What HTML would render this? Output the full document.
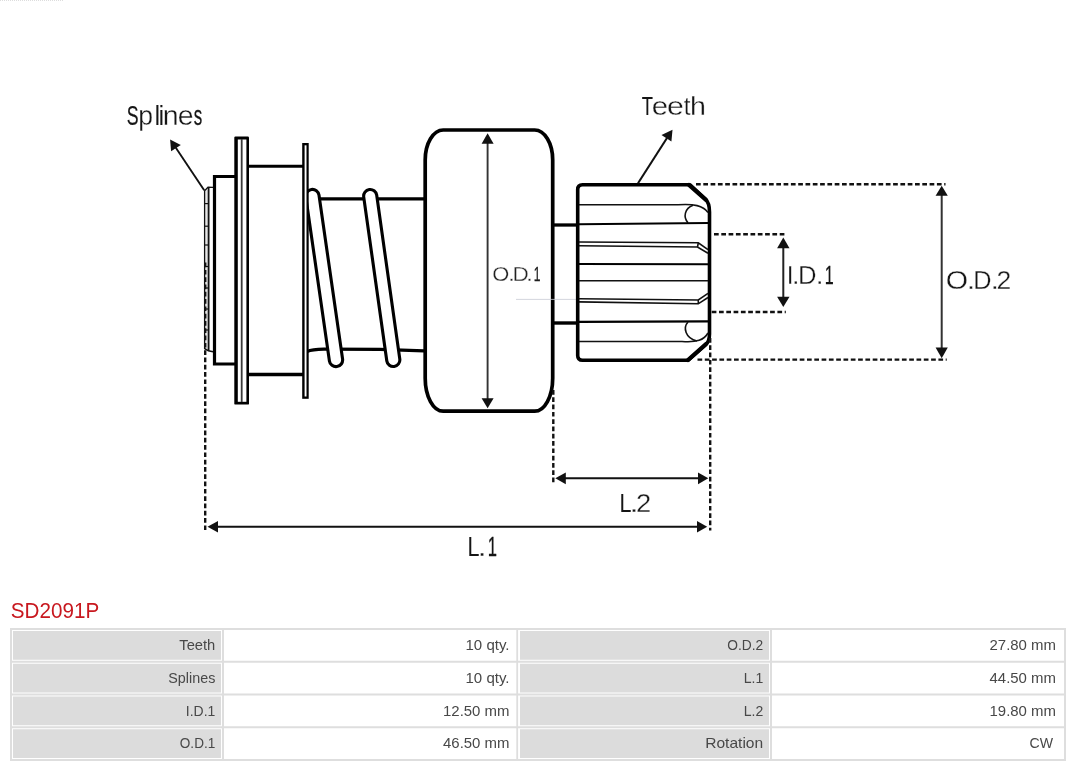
<!DOCTYPE html>
<html><head><meta charset="utf-8">
<style>
html,body{margin:0;padding:0;background:#fff;}
body{width:1080px;height:767px;position:relative;overflow:hidden;font-family:"Liberation Sans",sans-serif;}
svg{position:absolute;left:0;top:0;will-change:transform;}
svg text{font-family:"Liberation Sans",sans-serif;fill:#1a1a1a;}
svg text.tt{font-size:13.9px;fill:#484848;}
svg text.lb{fill:#151515;}
svg text.sm{fill:#222;}
#title{position:absolute;left:11px;top:598px;font-size:20.6px;line-height:24px;color:#c8181f;white-space:nowrap;}
.b{position:absolute;background:#dedede;}
.g{position:absolute;background:#dcdcdc;}
.t{position:absolute;font-size:14.3px;line-height:29px;height:29px;color:#444;text-align:right;white-space:nowrap;}
</style></head><body>
<svg width="1080" height="767" viewBox="0 0 1080 767">
<line x1="0" y1="0.5" x2="64" y2="0.5" stroke="#ddd" stroke-width="1" stroke-dasharray="1 1"/>
<path d="M204.6,190.7 L208,187 L213,187.3 L213,351.5 L208.4,350.6 L204.6,348.6 Z" fill="#fff" stroke="none"/>
<rect x="204.6" y="190" width="4" height="159" fill="#e6e6e6"/>
<path d="M204.6,349 L204.6,190.7 L208,187.2 L213,187.4" fill="none" stroke="#111" stroke-width="1.3"/>
<path d="M208.6,187 L208.6,351" fill="none" stroke="#111" stroke-width="1.8"/>
<path d="M204.6,348.6 L208.4,350.8 L213,351.8" fill="none" stroke="#111" stroke-width="1.6"/>
<line x1="204.2" y1="203.6" x2="208.6" y2="203.6" stroke="#111" stroke-width="1.2"/>
<line x1="204.2" y1="226.2" x2="208.6" y2="226.2" stroke="#111" stroke-width="1.2"/>
<line x1="204.2" y1="245" x2="208.6" y2="245" stroke="#111" stroke-width="1.2"/>
<line x1="204.2" y1="266.5" x2="208.6" y2="266.5" stroke="#111" stroke-width="1.2"/>
<line x1="204.2" y1="288" x2="208.6" y2="288" stroke="#111" stroke-width="1.2"/>
<line x1="204.2" y1="309" x2="208.6" y2="309" stroke="#111" stroke-width="1.2"/>
<line x1="204.2" y1="330" x2="208.6" y2="330" stroke="#111" stroke-width="1.2"/>
<path d="M236,176.5 L214.5,176.5 L214.5,364 L236,364" fill="#fff" stroke="#000" stroke-width="3.2" stroke-linejoin="miter"/>
<line x1="247" y1="166.3" x2="303" y2="166.3" stroke="#000" stroke-width="3"/>
<line x1="247" y1="374.5" x2="303" y2="374.5" stroke="#000" stroke-width="3.4"/>
<line x1="308" y1="198.8" x2="424" y2="198.8" stroke="#000" stroke-width="3.2"/>
<path d="M307,351.6 Q312,349.2 324,349.1 L380,349.3 L424,350.8" fill="none" stroke="#000" stroke-width="3.2"/>
<line x1="312.4" y1="196" x2="336.0" y2="360.0" stroke="#000" stroke-width="16.4" stroke-linecap="round"/>
<line x1="312.4" y1="196" x2="336.0" y2="360.0" stroke="#fff" stroke-width="10.2" stroke-linecap="round"/>
<line x1="370.2" y1="196" x2="393.3" y2="360.0" stroke="#000" stroke-width="16.2" stroke-linecap="round"/>
<line x1="370.2" y1="196" x2="393.3" y2="360.0" stroke="#fff" stroke-width="10.0" stroke-linecap="round"/>
<rect x="302.2" y="143" width="6.5" height="255.8" fill="#000"/>
<rect x="304.6" y="145.3" width="1.9" height="251.2" fill="#fff"/>
<rect x="234.3" y="136.6" width="14.7" height="268" rx="1.2" fill="#000"/>
<rect x="237.8" y="139.5" width="8.6" height="262.3" fill="#fff"/>
<line x1="241.7" y1="139" x2="241.7" y2="402" stroke="#3a3a3a" stroke-width="1.8"/>
<path d="M443.2,130 L534.7,130 A18,30 0 0 1 552.7,160 L552.7,378.2 A18,33 0 0 1 534.7,411.2 L443.2,411.2 A18,33 0 0 1 425.2,378.2 L425.2,160 A18,30 0 0 1 443.2,130 Z" fill="#fff" stroke="#000" stroke-width="3.7"/>
<line x1="554" y1="225" x2="578" y2="225" stroke="#000" stroke-width="3.3"/>
<line x1="554" y1="323" x2="578" y2="323" stroke="#000" stroke-width="3.4"/>
<line x1="516" y1="299.4" x2="576" y2="299.4" stroke="#c8ccd4" stroke-width="0.8"/>
<path d="M582.5,184.8 L690,184.8 L705.5,199 Q709.5,203 709.5,212 L709.5,334 Q709.5,341.5 705.5,345 L688.3,360.2 L582.5,360.2 Q577.7,360.2 577.7,355.4 L577.7,189.6 Q577.7,184.8 582.5,184.8 Z" fill="#fff" stroke="#000" stroke-width="3.6" stroke-linejoin="round"/>
<path d="M689,185 L706,200" stroke="#000" stroke-width="4.2" fill="none" stroke-linecap="round"/>
<path d="M688,360 L706,344" stroke="#000" stroke-width="4.2" fill="none" stroke-linecap="round"/>
<path d="M579,204.8 L678,204.8 C694,203.8 703,205.5 708,212.5" fill="none" stroke="#111" stroke-width="1.6"/>
<path d="M688,222.8 C683,217 684.5,208.5 693,205.3" fill="none" stroke="#111" stroke-width="1.6"/>
<path d="M579,224.3 L708,223" fill="none" stroke="#000" stroke-width="2.1"/>
<path d="M579,242 L698.3,242.8 L708,249.7 M579,245.8 L697.5,247 L708,253.3 M698.3,242.8 L697.5,247" fill="none" stroke="#111" stroke-width="1.6"/>
<path d="M579,264 L708,264.2" fill="none" stroke="#000" stroke-width="2.1"/>
<path d="M579,280.8 L708,280.8" fill="none" stroke="#111" stroke-width="1.6"/>
<path d="M579,298.7 L698.3,300 L708,293.3 M579,301.9 L698.3,303.8 L708,297.5 M698.3,300 L698.3,303.8" fill="none" stroke="#111" stroke-width="1.6"/>
<path d="M579,321.9 L708,321.4" fill="none" stroke="#000" stroke-width="2.1"/>
<path d="M688,322 C683,327.5 685,338 697,341" fill="none" stroke="#111" stroke-width="1.6"/>
<path d="M579,341.5 L682,341.5 C697,342.6 704,340 708,333" fill="none" stroke="#111" stroke-width="1.6"/>
<line x1="696" y1="184.3" x2="945.5" y2="184.3" stroke="#111" stroke-width="2.4" stroke-dasharray="4.7 2.6" fill="none"/>
<line x1="697.5" y1="359.6" x2="946.7" y2="359.6" stroke="#111" stroke-width="2.4" stroke-dasharray="4.7 2.6" fill="none"/>
<line x1="714" y1="234.2" x2="785.5" y2="234.2" stroke="#111" stroke-width="2.4" stroke-dasharray="4.7 2.6" fill="none"/>
<line x1="711.7" y1="312" x2="785.8" y2="312" stroke="#111" stroke-width="2.4" stroke-dasharray="4.7 2.6" fill="none"/>
<line x1="205.2" y1="262.6" x2="205.2" y2="531.1" stroke="#111" stroke-width="2.4" stroke-dasharray="4.7 2.6" fill="none"/>
<line x1="553.3" y1="390" x2="553.3" y2="483" stroke="#111" stroke-width="2.4" stroke-dasharray="4.7 2.6" fill="none"/>
<line x1="710.2" y1="338" x2="710.2" y2="530.5" stroke="#111" stroke-width="2.4" stroke-dasharray="4.7 2.6" fill="none"/>
<line x1="487.6" y1="142.7" x2="487.6" y2="399.3" stroke="#333" stroke-width="1.9"/>
<path d="M487.6,133.3 L481.6,143.7 L493.6,143.7 Z" fill="#111"/>
<path d="M487.6,408.3 L481.6,398.3 L493.6,398.3 Z" fill="#111"/>
<line x1="783.3" y1="247.3" x2="783.3" y2="297.7" stroke="#222" stroke-width="2.0"/>
<path d="M783.3,237.5 L777.0999999999999,248.3 L789.5,248.3 Z" fill="#111"/>
<path d="M783.3,307 L777.0999999999999,296.7 L789.5,296.7 Z" fill="#111"/>
<line x1="941.7" y1="194.8" x2="941.7" y2="348.5" stroke="#333" stroke-width="2.0"/>
<path d="M941.7,185.8 L935.6,195.8 L947.8000000000001,195.8 Z" fill="#111"/>
<path d="M941.7,358.3 L935.6,347.5 L947.8000000000001,347.5 Z" fill="#111"/>
<line x1="564.8" y1="478.3" x2="699" y2="478.3" stroke="#111" stroke-width="2.1"/>
<path d="M555.3,478.3 L565.8,472.40000000000003 L565.8,484.2 Z" fill="#111"/>
<path d="M708.3,478.3 L698,472.40000000000003 L698,484.2 Z" fill="#111"/>
<line x1="217" y1="526.8" x2="698" y2="526.8" stroke="#111" stroke-width="2.1"/>
<path d="M207.5,526.8 L218,521.0 L218,532.5999999999999 Z" fill="#111"/>
<path d="M707.2,526.8 L697,521.0 L697,532.5999999999999 Z" fill="#111"/>
<line x1="204.2" y1="190.3" x2="175.5" y2="147.2" stroke="#111" stroke-width="1.9"/>
<path d="M170.1,139.5 L171.1,151.2 L180.8,144.9 Z" fill="#111"/>
<line x1="638" y1="183.3" x2="667" y2="138" stroke="#111" stroke-width="2.1"/>
<path d="M672.5,129.7 L661.5,134.9 L671.4,141.4 Z" fill="#111"/>
<text class="lb" y="124.6" font-size="27.0"><tspan x="126.70" textLength="11.80" lengthAdjust="spacingAndGlyphs" stroke="#151515" stroke-width="0.22">S</tspan><tspan x="138.30" textLength="14.81" lengthAdjust="spacingAndGlyphs" stroke="#fff" stroke-width="0.3">p</tspan><tspan x="154.81" textLength="5.27" lengthAdjust="spacingAndGlyphs">l</tspan><tspan x="158.82" textLength="5.27" lengthAdjust="spacingAndGlyphs">i</tspan><tspan x="162.82" textLength="15.82" lengthAdjust="spacingAndGlyphs" stroke="#fff" stroke-width="0.3">n</tspan><tspan x="177.70" textLength="15.86" lengthAdjust="spacingAndGlyphs" stroke="#fff" stroke-width="0.3">e</tspan><tspan x="193.73" textLength="8.48" lengthAdjust="spacingAndGlyphs" stroke="#151515" stroke-width="0.26">s</tspan></text>
<text class="lb" y="114.6" font-size="26.7"><tspan x="641.70" textLength="11.22" lengthAdjust="spacingAndGlyphs" stroke="#151515" stroke-width="0.17">T</tspan><tspan x="651.67" textLength="16.33" lengthAdjust="spacingAndGlyphs" stroke="#fff" stroke-width="0.3">e</tspan><tspan x="667.03" textLength="16.80" lengthAdjust="spacingAndGlyphs" stroke="#fff" stroke-width="0.3">e</tspan><tspan x="683.84" textLength="6.73" lengthAdjust="spacingAndGlyphs" stroke="#fff" stroke-width="0.3">t</tspan><tspan x="690.12" textLength="15.93" lengthAdjust="spacingAndGlyphs" stroke="#fff" stroke-width="0.3">h</tspan></text>
<text class="lb" y="288.8" font-size="26.7"><tspan x="945.75" textLength="22.32" lengthAdjust="spacingAndGlyphs" stroke="#fff" stroke-width="0.3">O</tspan><tspan x="966.85" textLength="8.39" lengthAdjust="spacingAndGlyphs" stroke="#fff" stroke-width="0.3">.</tspan><tspan x="973.32" textLength="18.28" lengthAdjust="spacingAndGlyphs" stroke="#fff" stroke-width="0.3">D</tspan><tspan x="990.50" textLength="8.54" lengthAdjust="spacingAndGlyphs" stroke="#fff" stroke-width="0.3">.</tspan><tspan x="996.57" textLength="14.76" lengthAdjust="spacingAndGlyphs" stroke="#fff" stroke-width="0.3">2</tspan></text>
<text class="lb" y="283.6" font-size="26.0"><tspan x="786.65" textLength="6.80" lengthAdjust="spacingAndGlyphs" stroke="#fff" stroke-width="0.3">I</tspan><tspan x="791.94" textLength="7.52" lengthAdjust="spacingAndGlyphs" stroke="#fff" stroke-width="0.3">.</tspan><tspan x="797.90" textLength="18.53" lengthAdjust="spacingAndGlyphs" stroke="#fff" stroke-width="0.3">D</tspan><tspan x="815.74" textLength="7.81" lengthAdjust="spacingAndGlyphs" stroke="#fff" stroke-width="0.3">.</tspan><tspan x="824.78" textLength="8.97" lengthAdjust="spacingAndGlyphs" stroke="#151515" stroke-width="0.27">1</tspan></text>
<text class="lb" y="511.7" font-size="26.7"><tspan x="619.53" textLength="11.98" lengthAdjust="spacingAndGlyphs">L</tspan><tspan x="629.37" textLength="9.55" lengthAdjust="spacingAndGlyphs" stroke="#fff" stroke-width="0.3">.</tspan><tspan x="636.13" textLength="15.25" lengthAdjust="spacingAndGlyphs" stroke="#fff" stroke-width="0.3">2</tspan></text>
<text class="lb" y="555.5" font-size="26.8"><tspan x="467.43" textLength="11.98" lengthAdjust="spacingAndGlyphs">L</tspan><tspan x="477.47" textLength="9.26" lengthAdjust="spacingAndGlyphs" stroke="#fff" stroke-width="0.3">.</tspan><tspan x="487.73" textLength="9.24" lengthAdjust="spacingAndGlyphs" stroke="#151515" stroke-width="0.27">1</tspan></text>
<text class="lb sm" y="280.5" font-size="19.4"><tspan x="492.27" textLength="17.08" lengthAdjust="spacingAndGlyphs" stroke="#fff" stroke-width="0.3">O</tspan><tspan x="507.74" textLength="7.52" lengthAdjust="spacingAndGlyphs" stroke="#fff" stroke-width="0.3">.</tspan><tspan x="512.55" textLength="16.33" lengthAdjust="spacingAndGlyphs" stroke="#fff" stroke-width="0.3">D</tspan><tspan x="525.84" textLength="7.52" lengthAdjust="spacingAndGlyphs" stroke="#fff" stroke-width="0.3">.</tspan><tspan x="533.66" textLength="6.69" lengthAdjust="spacingAndGlyphs" stroke="#151515" stroke-width="0.27">1</tspan></text>
<text x="10.8" y="617.8" font-size="21.3" textLength="88.4" lengthAdjust="spacingAndGlyphs" style="fill:#c8181f">SD2091P</text>
<rect x="10" y="628.0" width="1056" height="2" fill="#dedede"/>
<rect x="10" y="660.75" width="1056" height="2" fill="#dedede"/>
<rect x="10" y="693.5" width="1056" height="2" fill="#dedede"/>
<rect x="10" y="726.25" width="1056" height="2" fill="#dedede"/>
<rect x="10" y="759.0" width="1056" height="2" fill="#dedede"/>
<rect x="10" y="628" width="2" height="133" fill="#dedede"/>
<rect x="222" y="628" width="2" height="133" fill="#dedede"/>
<rect x="516.3" y="628" width="1.8" height="133" fill="#dedede"/>
<rect x="770" y="628" width="2" height="133" fill="#dedede"/>
<rect x="1064" y="628" width="2" height="133" fill="#dedede"/>
<rect x="13" y="631.0" width="208" height="28.75" fill="#dcdcdc"/>
<rect x="520" y="631.0" width="249" height="28.75" fill="#dcdcdc"/>
<text class="tt" x="179.3" y="650.0" textLength="36" lengthAdjust="spacingAndGlyphs">Teeth</text>
<text class="tt" x="465.5" y="650.0" textLength="44" lengthAdjust="spacingAndGlyphs">10 qty.</text>
<text class="tt" x="727.2" y="650.0" textLength="36" lengthAdjust="spacingAndGlyphs">O.D.2</text>
<text class="tt" x="989.5" y="650.0" textLength="66.5" lengthAdjust="spacingAndGlyphs">27.80 mm</text>
<rect x="13" y="663.75" width="208" height="28.75" fill="#dcdcdc"/>
<rect x="520" y="663.75" width="249" height="28.75" fill="#dcdcdc"/>
<text class="tt" x="168.3" y="682.75" textLength="47" lengthAdjust="spacingAndGlyphs">Splines</text>
<text class="tt" x="465.5" y="682.75" textLength="44" lengthAdjust="spacingAndGlyphs">10 qty.</text>
<text class="tt" x="743.7" y="682.75" textLength="19.5" lengthAdjust="spacingAndGlyphs">L.1</text>
<text class="tt" x="989.5" y="682.75" textLength="66.5" lengthAdjust="spacingAndGlyphs">44.50 mm</text>
<rect x="13" y="696.5" width="208" height="28.75" fill="#dcdcdc"/>
<rect x="520" y="696.5" width="249" height="28.75" fill="#dcdcdc"/>
<text class="tt" x="185.8" y="715.5" textLength="29.5" lengthAdjust="spacingAndGlyphs">I.D.1</text>
<text class="tt" x="443.0" y="715.5" textLength="66.5" lengthAdjust="spacingAndGlyphs">12.50 mm</text>
<text class="tt" x="743.7" y="715.5" textLength="19.5" lengthAdjust="spacingAndGlyphs">L.2</text>
<text class="tt" x="989.5" y="715.5" textLength="66.5" lengthAdjust="spacingAndGlyphs">19.80 mm</text>
<rect x="13" y="729.25" width="208" height="28.75" fill="#dcdcdc"/>
<rect x="520" y="729.25" width="249" height="28.75" fill="#dcdcdc"/>
<text class="tt" x="179.8" y="748.25" textLength="35.5" lengthAdjust="spacingAndGlyphs">O.D.1</text>
<text class="tt" x="443.0" y="748.25" textLength="66.5" lengthAdjust="spacingAndGlyphs">46.50 mm</text>
<text class="tt" x="705.2" y="748.25" textLength="58" lengthAdjust="spacingAndGlyphs">Rotation</text>
<text class="tt" x="1029.5" y="748.25" textLength="23.5" lengthAdjust="spacingAndGlyphs">CW</text>
</svg>

</body></html>
